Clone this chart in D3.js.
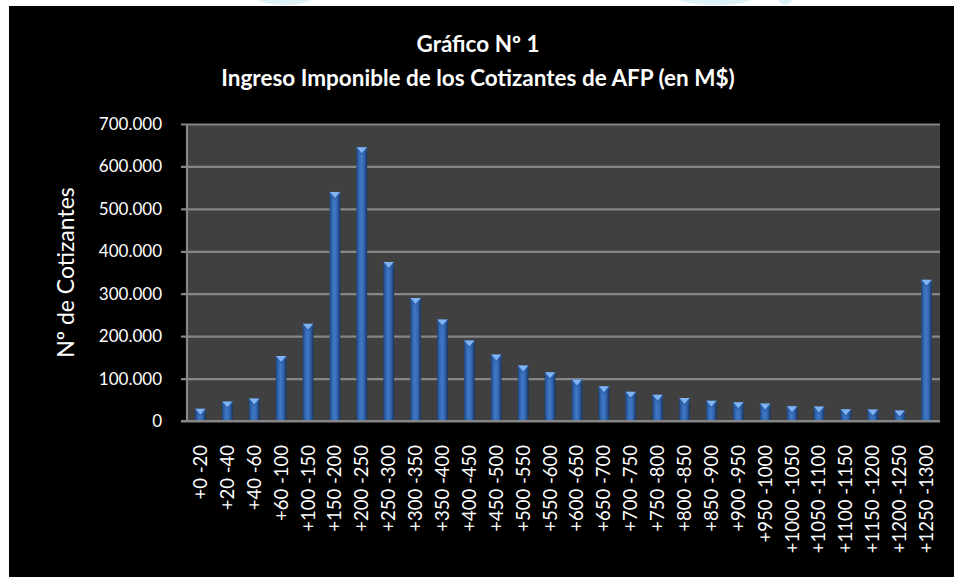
<!DOCTYPE html>
<html>
<head>
<meta charset="utf-8">
<script src="https://cdn.jsdelivr.net/npm/d3@7"></script>
<style>
  html, body { margin: 0; padding: 0; background: #ffffff; }
  svg { display: block; }
</style>
</head>
<body>
<svg id="chart" width="954" height="577"></svg>
<script>
const categories = ["+0 -20","+20 -40","+40 -60","+60 -100","+100 -150","+150 -200","+200 -250","+250 -300","+300 -350","+350 -400","+400 -450","+450 -500","+500 -550","+550 -600","+600 -650","+650 -700","+700 -750","+750 -800","+800 -850","+850 -900","+900 -950","+950 -1000","+1000 -1050","+1050 -1100","+1100 -1150","+1150 -1200","+1200 -1250","+1250 -1300"];
const cotizantes = [29000,46000,53000,153000,229000,540000,645000,375000,290000,239000,190000,157000,131000,115000,98000,82000,69000,62000,54000,48000,44000,41000,35000,34000,27500,27000,25000,333000];
const yTicks = [0,100000,200000,300000,400000,500000,600000,700000];
const titleLines = ["Gráfico Nº 1","Ingreso Imponible de los Cotizantes de AFP (en M$)"];
const yAxisTitle = "Nº de Cotizantes";

const svg = d3.select("#chart");
const W = 954, H = 577;
const plot = {left: 187, right: 940, top: 124, bottom: 421};
const font = "Lato, 'Open Sans', sans-serif";

// faint watermark in the top white strip
const defs = svg.append("defs");
svg.append("g").attr("fill", "#def1f6")
  .selectAll("ellipse").data([[285,-8,34,13],[715,-6,44,11],[785,-4,8,9]])
  .join("ellipse").attr("cx", d => d[0]).attr("cy", d => d[1]).attr("rx", d => d[2]).attr("ry", d => d[3]);

// black chart area
svg.append("rect").attr("x", 9).attr("y", 6).attr("width", W - 9).attr("height", H - 6).attr("fill", "#000000");

// plot area
svg.append("rect").attr("x", plot.left).attr("y", plot.top)
  .attr("width", plot.right - plot.left).attr("height", plot.bottom - plot.top).attr("fill", "#404040");

const x = d3.scaleBand().domain(categories).range([plot.left, plot.right]).paddingInner(0.6).paddingOuter(0.3);
const y = d3.scaleLinear().domain([0, 700000]).range([plot.bottom, plot.top]);
const loc = d3.formatLocale({decimal: ",", thousands: ".", grouping: [3], currency: ["$", ""]});
const fmt = loc.format(",");

// gridlines + y axis
const yAxis = d3.axisLeft(y).tickValues(yTicks).tickFormat(fmt).tickSize(-(plot.right - plot.left + 6)).tickPadding(25);
const gy = svg.append("g").attr("transform", `translate(${plot.left - 6},0)`).call(yAxis);
gy.select(".domain").remove();
gy.selectAll(".tick line").attr("stroke", "#868686").attr("stroke-width", 2.2);
gy.selectAll(".tick text").attr("fill", "#ffffff").attr("font-family", font).attr("font-size", 17).attr("dx", 6);
svg.append("line").attr("x1", plot.left).attr("x2", plot.left).attr("y1", plot.top).attr("y2", plot.bottom)
  .attr("stroke", "#868686").attr("stroke-width", 2.2);

// bar gradient
const grad = defs.append("linearGradient").attr("id", "barGrad").attr("x1", "0%").attr("x2", "100%").attr("y1", "0%").attr("y2", "0%");
[[0, "#1d4277"], [0.2, "#3164ad"], [0.45, "#4079c7"], [0.7, "#3466b0"], [1, "#163561"]].forEach(s =>
  grad.append("stop").attr("offset", s[0]).attr("stop-color", s[1]));

const bars = svg.append("g").selectAll("g").data(categories).join("g");
bars.append("rect")
  .attr("x", d => x(d)).attr("width", x.bandwidth())
  .attr("y", (d, i) => y(cotizantes[i])).attr("height", (d, i) => plot.bottom - y(cotizantes[i]))
  .attr("fill", "url(#barGrad)");
// top cap (light chevron)
bars.append("path")
  .attr("d", (d, i) => {
    const x0 = x(d), x1 = x(d) + x.bandwidth(), xm = x0 + x.bandwidth() / 2, t = y(cotizantes[i]);
    return `M${x0},${t}L${x1},${t}L${x1 - 1.5},${t + 1.5}L${xm},${t + 6}L${x0 + 1.5},${t + 1.5}Z`;
  })
  .attr("fill", "#7fb3f2");
bars.append("path")
  .attr("d", (d, i) => {
    const x0 = x(d), x1 = x(d) + x.bandwidth(), xm = x0 + x.bandwidth() / 2, t = y(cotizantes[i]);
    return `M${x0},${t}L${xm},${t + 6}L${x1},${t}L${x1},${t + 3}L${xm},${t + 8}L${x0},${t + 3}Z`;
  })
  .attr("fill", "#2b5da3").attr("opacity", 0.6);

// x axis line
svg.append("line").attr("x1", plot.left - 6).attr("x2", plot.right).attr("y1", plot.bottom).attr("y2", plot.bottom)
  .attr("stroke", "#868686").attr("stroke-width", 2.2);

// x labels rotated
const xAxis = d3.axisBottom(x).tickSize(0).tickPadding(0);
const gx = svg.append("g").attr("transform", `translate(0,${plot.bottom})`).call(xAxis);
gx.select(".domain").remove();
gx.selectAll(".tick text")
  .attr("fill", "#ffffff").attr("font-family", font).attr("font-size", 18.5)
  .attr("text-anchor", "end").attr("transform", "translate(0,24) rotate(-90)")
  .attr("x", 0).attr("y", 0).attr("dy", "0.35em");

// titles
svg.append("text").attr("x", 478).attr("y", 52).attr("text-anchor", "middle")
  .attr("fill", "#ffffff").attr("font-family", font).attr("font-weight", "bold").attr("font-size", 22.5).text(titleLines[0]);
svg.append("text").attr("x", 478).attr("y", 86).attr("text-anchor", "middle")
  .attr("fill", "#ffffff").attr("font-family", font).attr("font-weight", "bold").attr("font-size", 22.5).text(titleLines[1]);

// y axis title
svg.append("text").attr("transform", `translate(74,${(plot.top + plot.bottom) / 2}) rotate(-90)`)
  .attr("text-anchor", "middle").attr("fill", "#ffffff").attr("font-family", font).attr("font-size", 23).text(yAxisTitle);
</script>
</body>
</html>
